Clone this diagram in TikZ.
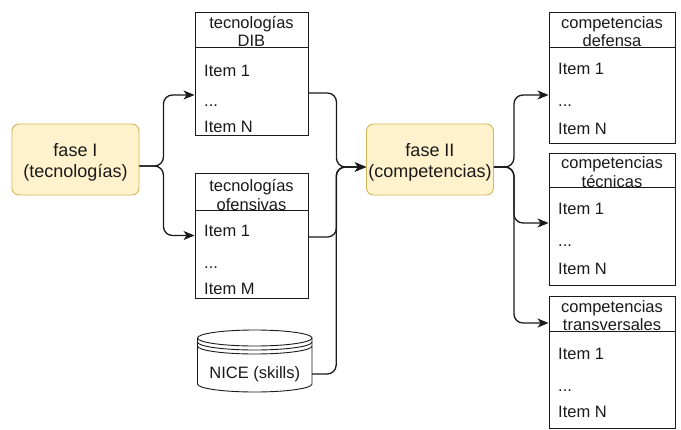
\documentclass[tikz,border=0pt]{standalone}
\usepackage{fontspec}
\setmainfont{Liberation Sans}
\usetikzlibrary{arrows.meta,calc}
\definecolor{phasefill}{HTML}{FFF2CC}
\definecolor{phaseline}{HTML}{D6B656}
\definecolor{ink}{HTML}{1A1A1A}

\begin{document}
\begin{tikzpicture}[x=1pt,y=-1pt,
  phase/.style={draw=phaseline, fill=phasefill, rounded corners=7pt, line width=0.9pt,
    minimum width=127pt, minimum height=71pt, inner sep=0pt},
  phasetext/.style={font=\fontsize{18}{21}\selectfont, align=center, text=ink, inner sep=0pt},
  listbox/.style={draw=ink, line width=0.9pt, inner sep=0pt, fill=white},
  divider/.style={draw=ink, line width=0.9pt},
  head/.style={font=\fontsize{16.5}{18.5}\selectfont, align=center, text=ink, inner sep=0pt},
  entry/.style={font=\fontsize{16.5}{18}\selectfont, anchor=base west, text=ink, inner sep=0pt},
  link/.style={draw=ink, line width=1.3pt, rounded corners=9pt,
    -{Stealth[length=11pt,width=9pt,inset=3pt]}},
]

\useasboundingbox[fill=white] (0,0) rectangle (681,429);

% ---- phase boxes ----
\node[phase] (f1) at (75.5,159.5) {};
\node[phasetext] (f1t) at (75.5,162.5) {fase I\\(tecnologías)};
\node[phase] (f2) at (430,159.5) {};
\node[phasetext] (f2t) at (430,162.5) {fase II\\(competencias)};

% ---- technology lists ----
\node[listbox, minimum width=113pt, minimum height=123pt] (dib) at (251.5,73.5) {};
\draw[divider] ($(dib.north west)+(0,36)$) -- ($(dib.north east)+(0,36)$);
\node[head] (dibh) at (251.5,31.5) {tecnologías\\DIB};
\node[entry] (dib1) at (204,76) {Item 1};
\node[entry] (dib2) at (204,106) {...};
\node[entry] (dib3) at (204,132) {Item N};

\node[listbox, minimum width=113pt, minimum height=125pt] (ofe) at (251.5,235.5) {};
\draw[divider] ($(ofe.north west)+(0,38)$) -- ($(ofe.north east)+(0,38)$);
\node[head] (ofeh) at (251.5,195) {tecnologías\\ofensivas};
\node[entry] (ofe1) at (204,236) {Item 1};
\node[entry] (ofe2) at (204,268) {...};
\node[entry] (ofe3) at (204,294) {Item M};

% ---- NICE data store ----
\draw[divider, fill=white] (197.5,338) -- (197.5,384)
  arc[start angle=180, end angle=360, x radius=57.25pt, y radius=8pt] -- (312,338);
\draw[divider, fill=white] (254.75,338) ellipse [x radius=57.25pt, y radius=8pt];
\draw[divider] (197.5,342) arc[start angle=180, end angle=360, x radius=57.25pt, y radius=8pt];
\draw[divider] (197.5,346) arc[start angle=180, end angle=360, x radius=57.25pt, y radius=8pt];
\node[font=\fontsize{16.5}{18}\selectfont, text=ink, inner sep=0pt,
  minimum width=114.5pt] (nice) at (254.75,374) {NICE (skills)};

% ---- competence lists ----
\node[listbox, minimum width=126pt, minimum height=131pt] (def) at (612,77.5) {};
\draw[divider] ($(def.north west)+(0,36)$) -- ($(def.north east)+(0,36)$);
\node[head] (defh) at (612,31.5) {competencias\\defensa};
\node[entry] (def1) at (558,74) {Item 1};
\node[entry] (def2) at (558,106) {...};
\node[entry] (def3) at (558,134) {Item N};

\node[listbox, minimum width=126pt, minimum height=132pt] (tec) at (612,219) {};
\draw[divider] ($(tec.north west)+(0,35)$) -- ($(tec.north east)+(0,35)$);
\node[head] (tech) at (612,172) {competencias\\técnicas};
\node[entry] (tec1) at (558,214) {Item 1};
\node[entry] (tec2) at (558,246) {...};
\node[entry] (tec3) at (558,274) {Item N};

\node[listbox, minimum width=126pt, minimum height=132pt] (tra) at (612,362) {};
\draw[divider] ($(tra.north west)+(0,36)$) -- ($(tra.north east)+(0,36)$);
\node[head] (trah) at (612,315.5) {competencias\\transversales};
\node[entry] (tra1) at (558,359) {Item 1};
\node[entry] (tra2) at (558,391) {...};
\node[entry] (tra3) at (558,417) {Item N};

% ---- connectors ----
\draw[link] ([yshift=-6.5pt]f1.east) -- ++(24,0) |- ([yshift=-21.5pt]dib.west);
\draw[link] ([yshift=-6.5pt]f1.east) -- ++(24,0) |- (ofe.west);

\draw[link] ([yshift=-19.5pt]dib.east) -- ++(28,0) |- ([yshift=-7.5pt]f2.west);
\draw[link] ([yshift=-1.5pt]ofe.east) -- ++(28,0) |- ([yshift=-7.5pt]f2.west);
\draw[link] (nice.east) -- ++(24,0) |- ([yshift=-7.5pt]f2.west);

\draw[link] ([yshift=-7.5pt]f2.east) -- ++(20,0) |- ([yshift=-17.5pt]def.west);
\draw[link] ([yshift=-7.5pt]f2.east) -- ++(20,0) |- ([yshift=-4pt]tec.west);
\draw[link] ([yshift=-7.5pt]f2.east) -- ++(20,0) |- ([yshift=39pt]tra.west);
\end{tikzpicture}
\end{document}
